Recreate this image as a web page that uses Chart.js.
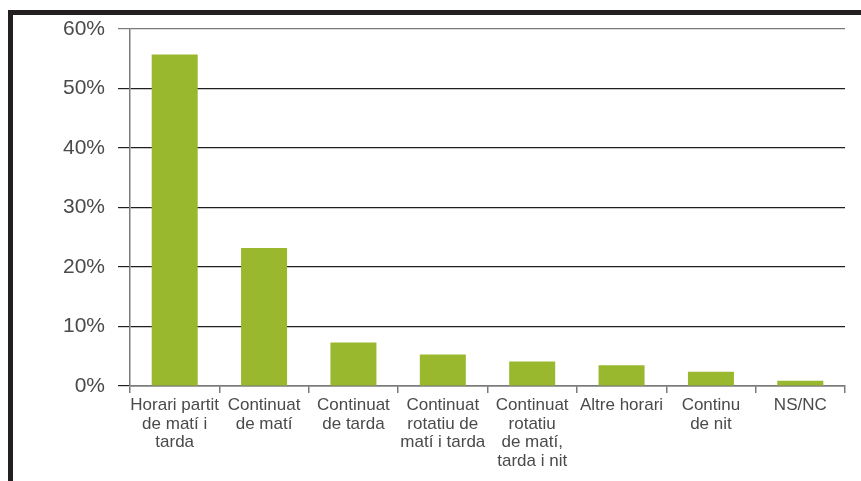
<!DOCTYPE html>
<html>
<head>
<meta charset="utf-8">
<script src="https://cdn.jsdelivr.net/npm/chart.js@4/dist/chart.umd.min.js"></script>
<style>
  html, body { margin: 0; padding: 0; background: #fff; }
  #frame { position: absolute; left: 8px; top: 10px; width: 848px; height: 466px;
           border-top: 5px solid #231f20; border-left: 5px solid #231f20; }
  #wrap { position: absolute; left: 0; top: 0; width: 848px; height: 466px; }
</style>
</head>
<body>
<div id="frame"><div id="wrap"><canvas id="c"></canvas></div></div>
<script>
const categories = [
  ["Horari partit", "de matí i", "tarda"],
  ["Continuat", "de matí"],
  ["Continuat", "de tarda"],
  ["Continuat", "rotatiu de", "matí i tarda"],
  ["Continuat", "rotatiu", "de matí,", "tarda i nit"],
  ["Altre horari"],
  ["Continu", "de nit"],
  ["NS/NC"]
];
const values = [55.7, 23.2, 7.3, 5.3, 4.1, 3.5, 2.4, 0.9];
const yTicks = [0, 10, 20, 30, 40, 50, 60];

new Chart(document.getElementById('c'), {
  type: 'bar',
  data: {
    labels: categories,
    datasets: [{
      data: values,
      backgroundColor: '#9ab82e',
      borderWidth: 0,
      barPercentage: 0.515,
      categoryPercentage: 1
    }]
  },
  options: {
    responsive: true,
    maintainAspectRatio: false,
    animation: false,
    layout: { padding: { top: 14, right: 16, bottom: 0, left: 0 } },
    plugins: { legend: { display: false }, tooltip: { enabled: false } },
    scales: {
      x: {
        afterFit: s => { s.height = 95; },
        border: { color: '#7a7a7a', width: 1.5 },
        grid: { drawOnChartArea: false, drawTicks: true, tickLength: 7, color: '#7a7a7a', lineWidth: 1.5, offset: true },
        ticks: {
          color: '#4a4a4a', maxRotation: 0, minRotation: 0, autoSkip: false, padding: 3,
          font: { family: '"Liberation Sans", Arial, sans-serif', size: 17, lineHeight: 1.1 }
        }
      },
      y: {
        min: 0, max: 60,
        afterFit: s => { s.width = 117; s.paddingTop = 0; s.paddingBottom = 0; },
        afterBuildTicks: s => { s.ticks = yTicks.map(v => ({ value: v })); },
        border: { color: '#7a7a7a', width: 1.5 },
        grid: {
          tickLength: 12, lineWidth: 1.2,
          color: ctx => (ctx.tick && ctx.tick.value === 60) ? '#7a7a7a' : '#231f20'
        },
        ticks: {
          color: '#4a4a4a', padding: 13,
          font: { family: '"Liberation Sans", Arial, sans-serif', size: 21 },
          callback: v => v + '%'
        }
      }
    }
  }
});
</script>
</body>
</html>
